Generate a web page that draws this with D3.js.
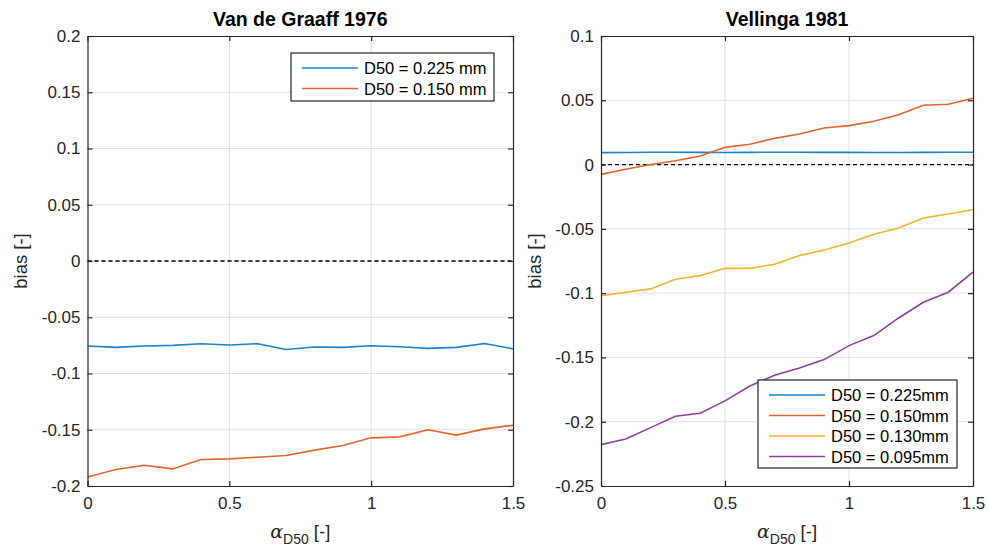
<!DOCTYPE html>
<html>
<head>
<meta charset="utf-8">
<script src="https://cdn.jsdelivr.net/npm/d3@7"></script>
<style>
  body { margin: 0; background: #fff; }
  svg { font-family: "Liberation Sans", Arial, sans-serif; }
</style>
</head>
<body>
<svg width="989" height="552"></svg>
<script>
// alpha_D50 values, shared by both panels
var alpha = [0, 0.1, 0.2, 0.3, 0.4, 0.5, 0.6, 0.7, 0.8, 0.9, 1.0, 1.1, 1.2, 1.3, 1.4, 1.5];

// Van de Graaff 1976
var vdg225 = [-0.0756, -0.0768, -0.0756, -0.0750, -0.0735, -0.0747, -0.0735, -0.0786, -0.0765, -0.0768,
              -0.0753, -0.0762, -0.0777, -0.0768, -0.0733, -0.0780];
var vdg150 = [-0.192, -0.1853, -0.1815, -0.1848, -0.1765, -0.1759, -0.1744, -0.1729, -0.1681, -0.1640,
              -0.1572, -0.1563, -0.1500, -0.1548, -0.1492, -0.1460];

// Vellinga 1981
var vel225 = [0.0093, 0.0094, 0.0096, 0.0096, 0.0095, 0.0094, 0.0095, 0.0096, 0.0096, 0.0095,
              0.0095, 0.0094, 0.0094, 0.0095, 0.0096, 0.0096];
var vel150 = [-0.0076, -0.0037, 0.0000, 0.0030, 0.0067, 0.0134, 0.0158, 0.0204, 0.0238, 0.0285,
              0.0303, 0.0337, 0.0388, 0.0461, 0.0469, 0.0516];
var vel130 = [-0.1020, -0.0993, -0.0967, -0.0892, -0.0864, -0.0807, -0.0807, -0.0775, -0.0708, -0.0664,
              -0.0610, -0.0542, -0.0493, -0.0415, -0.0384, -0.0351];
var vel095 = [-0.2178, -0.2134, -0.2046, -0.1957, -0.1934, -0.1838, -0.1722, -0.1638, -0.1582, -0.1517,
              -0.1408, -0.1330, -0.1193, -0.1071, -0.0993, -0.0837];

var xTicks = [0, 0.5, 1, 1.5];
var yTicksLeft = [0.2, 0.15, 0.1, 0.05, 0, -0.05, -0.1, -0.15, -0.2];
var yTicksRight = [0.1, 0.05, 0, -0.05, -0.1, -0.15, -0.2, -0.25];

var colors = ["#1a82cc", "#e2652e", "#efb42c", "#8e3fa0"];

var svg = d3.select("svg");
var fmt = function(d) { return String(d); };   // plain hyphen minus, like the original

function panel(opt) {
    var x = d3.scaleLinear().domain([0, 1.5]).range([opt.left, opt.right]);
    var y = d3.scaleLinear().domain(opt.ydom).range([486, 36]);
    var g = svg.append("g");

    // grid
    g.selectAll(".gx").data(xTicks.slice(1, -1)).enter().append("line")
     .attr("x1", function(d) { return x(d); }).attr("x2", function(d) { return x(d); })
     .attr("y1", 36).attr("y2", 486)
     .attr("stroke", "#e0e0e0").attr("stroke-width", 1);
    g.selectAll(".gy").data(opt.yticks.slice(1, -1)).enter().append("line")
     .attr("y1", function(d) { return y(d); }).attr("y2", function(d) { return y(d); })
     .attr("x1", opt.left).attr("x2", opt.right)
     .attr("stroke", "#e0e0e0").attr("stroke-width", 1);

    // zero line
    g.append("line")
     .attr("x1", opt.left).attr("x2", opt.right)
     .attr("y1", y(0)).attr("y2", y(0))
     .attr("stroke", "#000").attr("stroke-width", 1.3)
     .attr("stroke-dasharray", "4,3");

    // series
    var line = d3.line()
        .x(function(d, i) { return x(alpha[i]); })
        .y(function(d) { return y(d); });
    opt.series.forEach(function(s, i) {
        g.append("path").datum(s)
         .attr("fill", "none")
         .attr("stroke", colors[i])
         .attr("stroke-width", 1.6)
         .attr("d", line);
    });

    // axes (ticks inward on all four sides)
    var ax = function(a, p) { return a.tickSizeInner(-5).tickSizeOuter(0).tickPadding(p); };
    g.append("g").attr("transform", "translate(0,486)")
     .call(ax(d3.axisBottom(x).tickValues(xTicks).tickFormat(fmt), 11));
    g.append("g").attr("transform", "translate(0,36)")
     .call(ax(d3.axisTop(x).tickValues(xTicks).tickFormat(""), 0));
    g.append("g").attr("transform", "translate(" + opt.left + ",0)")
     .call(ax(d3.axisLeft(y).tickValues(opt.yticks).tickFormat(fmt), 7));
    g.append("g").attr("transform", "translate(" + opt.right + ",0)")
     .call(ax(d3.axisRight(y).tickValues(opt.yticks).tickFormat(""), 0));
    g.selectAll(".domain").attr("stroke", "#262626").attr("stroke-width", 1.2);
    g.selectAll(".tick line").attr("stroke", "#262626").attr("stroke-width", 1.2);
    g.selectAll(".tick text").attr("fill", "#262626")
     .style("font-size", "17px").style("font-family", "Liberation Sans, Arial, sans-serif");

    // title
    g.append("text")
     .attr("x", (opt.left + opt.right) / 2).attr("y", 26)
     .attr("text-anchor", "middle")
     .style("font-size", "19.5px").style("font-weight", "bold")
     .text(opt.title);

    // y label
    g.append("text")
     .attr("transform", "translate(" + opt.ylabelX + "," + y((opt.ydom[0] + opt.ydom[1]) / 2) + ") rotate(-90)")
     .attr("text-anchor", "middle")
     .attr("fill", "#262626")
     .style("font-size", "18.5px")
     .text("bias [-]");

    // x label
    var xl = g.append("text")
     .attr("x", (opt.left + opt.right) / 2).attr("y", 538)
     .attr("text-anchor", "middle")
     .attr("fill", "#262626")
     .style("font-size", "18.5px");
    xl.append("tspan").style("font-family", "DejaVu Serif, serif").style("font-style", "italic")
      .style("font-size", "19px").text("\u03b1");
    xl.append("tspan").attr("dy", 6).style("font-size", "14px").text("D50");
    xl.append("tspan").attr("dy", -6).text(" [-]");

    // legend
    var L = opt.legend;
    var lg = g.append("g");
    lg.append("rect")
      .attr("x", L.x).attr("y", L.y).attr("width", L.w).attr("height", L.h)
      .attr("fill", "#fff").attr("stroke", "#262626").attr("stroke-width", 1.2);
    L.labels.forEach(function(t, i) {
        var yy = L.y + 15 + i * 20.5;
        lg.append("line")
          .attr("x1", L.x + 11).attr("x2", L.x + 67)
          .attr("y1", yy).attr("y2", yy)
          .attr("stroke", colors[i]).attr("stroke-width", 1.6);
        lg.append("text")
          .attr("x", L.x + 73).attr("y", yy + 6)
          .attr("fill", "#000")
          .style("font-size", "16.5px")
          .text(t);
    });
}

panel({
    left: 87.5, right: 513, ydom: [-0.2, 0.2], yticks: yTicksLeft,
    title: "Van de Graaff 1976", ylabelX: 27,
    series: [vdg225, vdg150],
    legend: { x: 291, y: 53, w: 203, h: 48, labels: ["D50 = 0.225 mm", "D50 = 0.150 mm"] }
});

panel({
    left: 601, right: 973, ydom: [-0.25, 0.1], yticks: yTicksRight,
    title: "Vellinga 1981", ylabelX: 541,
    series: [vel225, vel150, vel130, vel095],
    legend: { x: 758, y: 380, w: 199, h: 88,
              labels: ["D50 = 0.225mm", "D50 = 0.150mm", "D50 = 0.130mm", "D50 = 0.095mm"] }
});
</script>
</body>
</html>
